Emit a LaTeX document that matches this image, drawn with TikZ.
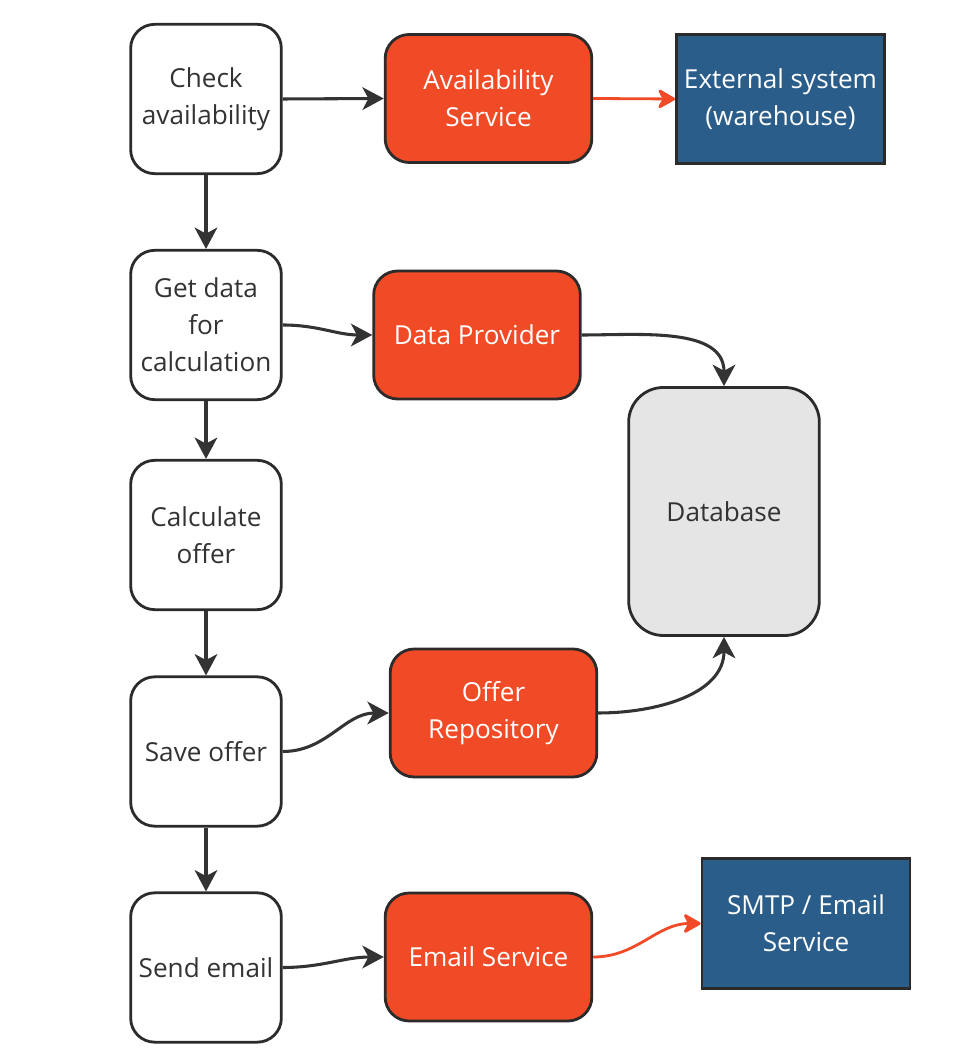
\documentclass[tikz,border=0pt]{standalone}
\usepackage{fontspec}
\setmainfont{Open Sans}
\usetikzlibrary{arrows.meta}
\definecolor{borderc}{HTML}{2B2B2B}
\definecolor{orangec}{HTML}{F14A26}
\definecolor{bluec}{HTML}{2A5D8A}
\definecolor{grayc}{HTML}{E5E5E5}
\definecolor{arrowc}{HTML}{333333}
\begin{document}
\begin{tikzpicture}[x=0.75pt,y=0.75pt,
  box/.style={draw=borderc, line width=2.1pt, rounded corners=18pt, align=center, inner sep=0pt,
    font=\fontsize{19.6}{27.75}\selectfont},
  stepbox/.style={box, fill=white, text=arrowc, minimum width=113pt, minimum height=112pt},
  svc/.style={box, fill=orangec, text=white, minimum width=155pt, minimum height=96pt},
  ext/.style={box, rounded corners=0pt, fill=bluec, text=white, minimum width=156pt, minimum height=97pt},
  db/.style={box, fill=grayc, text=arrowc, rounded corners=26pt, minimum width=143pt, minimum height=186pt},
  arr/.style={draw=arrowc, line width=2.3pt, -{Stealth[length=16pt,width=17pt,inset=4.5pt]}},
  oarr/.style={draw=orangec, line width=2.1pt, -{Stealth[length=15pt,width=17pt,inset=4.5pt,round]}}]
\useasboundingbox (0,0) rectangle (972,1064);

\node[stepbox] (check)   at (206,965)   {Check\\availability};
\node[stepbox] (getdata) at (206,739)   {Get data\\for\\calculation};
\node[stepbox] (calc)    at (206,529)   {Calculate\\offer};
\node[stepbox] (save)    at (206,312.5) {Save offer};
\node[stepbox] (send)    at (206,96.5)  {Send email};

\node[svc] (avail) at (488.5,965.5) {Availability\\Service};
\node[svc] (dp)    at (477,729)     {Data Provider};
\node[svc] (repo)  at (493.5,351)   {Offer\\Repository};
\node[svc] (email) at (488.5,107)   {Email Service};

\node[ext] (ext)  at (780.5,965) {External system\\(warehouse)};
\node[ext] (smtp) at (806,140.5) {SMTP / Email\\Service};

\node[db] (db) at (724,552.5) {Database};

\draw[arr] (check.east) -- (avail.west);
\draw[oarr] (avail.east) -- (ext.west);
\draw[arr] (check.south) -- (getdata.north);
\draw[arr] (getdata.east) to[out=0,in=180] (dp.west);
\draw[arr] (dp.east) to[out=0,in=90] (db.north);
\draw[arr] (getdata.south) -- (calc.north);
\draw[arr] (calc.south) -- (save.north);
\draw[arr] (save.east) to[out=0,in=180] (repo.west);
\draw[arr] (repo.east) to[out=0,in=-90] (db.south);
\draw[arr] (save.south) -- (send.north);
\draw[arr] (send.east) to[out=0,in=180] (email.west);
\draw[oarr] (email.east) to[out=0,in=180] (smtp.west);
\end{tikzpicture}
\end{document}
